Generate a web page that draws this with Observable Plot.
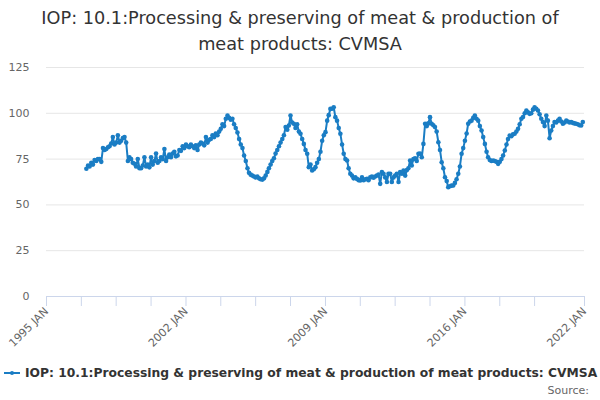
<!DOCTYPE html>
<html><head><meta charset="utf-8">
<script src="https://cdn.jsdelivr.net/npm/d3@7"></script>
<script src="https://cdn.jsdelivr.net/npm/@observablehq/plot@0.6"></script>
<style>
body{margin:0;width:600px;height:400px;overflow:hidden;font-family:"DejaVu Sans",sans-serif;background:#fff;}
#title{font-size:17.7px;color:#333;text-align:center;line-height:26px;padding-top:5px;height:53px;box-sizing:content-box;}
#chart{height:300px;}
#legend{margin-top:5px;height:20px;line-height:20px;font-size:12.3px;font-weight:bold;color:#333;white-space:nowrap;display:flex;align-items:center;padding-left:4px;}
.sym{position:relative;display:inline-block;width:16px;height:20px;margin-right:5px;}
.ln{position:absolute;left:0;top:9px;width:16px;height:2px;background:#1a7dc4;}
.dt{position:absolute;left:6px;top:8px;width:4px;height:4px;border-radius:2px;background:#1a7dc4;}
#source{font-size:11px;color:#666;text-align:right;padding-right:11px;line-height:14px;margin-top:1px;}
</style></head><body>
<div id="title">IOP: 10.1:Processing &amp; preserving of meat &amp; production of<br>meat products: CVMSA</div>
<div id="chart"></div>
<div id="legend"><span class="sym"><span class="ln"></span><span class="dt"></span></span><span>IOP: 10.1:Processing &amp; preserving of meat &amp; production of meat products: CVMSA</span></div>
<div id="source">Source:</div>
<script>
const seriesName = "IOP: 10.1:Processing & preserving of meat & production of meat products: CVMSA";
const startYear = 1997; // monthly values from January 1997
const values = [
  69.7, 71.5, 71, 73, 72, 74.5, 74, 75, 75, 73.5, 81, 80,
  80.5, 81.5, 82, 83.5, 87, 83, 84, 88, 84, 85, 86.5, 87,
  84, 74, 76, 75, 73, 72.5, 71, 75, 70, 70, 71.5, 76,
  71, 72, 70.5, 76, 72, 74, 78, 73, 74, 76, 75, 80.5,
  74, 76, 77.5, 76, 78, 79, 76.5, 77, 80, 79.5, 82, 81,
  83, 82, 81.5, 83, 82, 81, 82.5, 80, 83, 84, 83.5, 82.5,
  87, 84, 85.5, 86, 88, 87, 89, 88, 90, 91.5, 94, 93,
  97, 98.8, 97.5, 96.5, 97, 94, 92, 89.5, 86, 83, 81, 77,
  74, 70, 67.5, 66.5, 66, 65.5, 65, 65.5, 64.5, 64, 63.8, 64.5,
  66, 68, 70, 72, 74, 75.5, 78, 80, 82, 84, 86, 88,
  92.5, 91, 93.3, 98.8, 95, 94.3, 92, 94, 90, 88.8, 86, 83.3,
  80, 77.9, 70.6, 72, 68.8, 69.5, 70.6, 73, 75, 79, 85, 88,
  89.7, 96, 99, 102.4, 102.5, 103.3, 97.9, 96, 92, 88.8, 83, 77.9,
  75, 74.2, 70, 67, 66, 64.5, 65, 64.2, 63.5, 63.3, 65, 63.5,
  64, 64.2, 63.5, 65, 65.5, 64.8, 65.5, 66, 66.5, 61.5, 67.9, 67,
  65, 62.5, 67, 67, 62.5, 65, 66, 67, 62.5, 67.9, 67, 68.8,
  66, 69, 70, 74.2, 71.5, 75, 75.5, 74, 77.9, 78, 76, 83.3,
  94.3, 93, 94.5, 97.9, 94.3, 93.5, 92.5, 90, 84.2, 80, 73.3, 70,
  65.1, 63, 59.7, 60.2, 60.5, 60.6, 62, 64, 67, 71, 77.9, 81,
  85, 89, 94.3, 95.5, 96, 97.5, 98.8, 97, 96, 93, 90.6, 87,
  83.3, 79, 76, 74.5, 74, 74.2, 74, 73.5, 72.4, 73.5, 75, 77,
  79.7, 83, 86, 87.9, 87.5, 88.5, 88.8, 90, 91.5, 94, 97, 98,
  100, 101.5, 100.5, 99.7, 100, 102, 103.3, 102.5, 101.5, 99.5, 97, 95.2,
  93, 98.8, 96, 86.4, 90.6, 93, 95.2, 95, 96, 97, 95.5, 94.3,
  95, 96, 95.5, 95, 95.2, 94.8, 94.5, 94.3, 94, 93.5, 93.3, 95.2
];
const yTicks = [0, 25, 50, 75, 100, 125];
const xTickDates = ["1995-01","1996-10","1998-07","2000-04","2002-01","2003-10","2005-07","2007-04","2009-01","2010-10","2012-07","2014-04","2016-01","2017-10","2019-07","2022-01"];
const xTickLabels = {"1995-01":"1995 JAN","2002-01":"2002 JAN","2009-01":"2009 JAN","2016-01":"2016 JAN","2022-01":"2022 JAN"};
const xDomain = ["1995-01", "2022-01"];

const blue = "#1a7dc4";
const parse = s => { const [y, m] = s.split("-").map(Number); return new Date(Date.UTC(y, m - 1, 1)); };
const data = values.map((v, i) => ({date: new Date(Date.UTC(startYear, i, 1)), value: v}));
const tickDates = xTickDates.map(parse);
const labelOf = d => xTickLabels[d3.utcFormat("%Y-%m")(d)] || "";

const chart = Plot.plot({
  width: 600, height: 300,
  marginLeft: 46, marginRight: 16, marginTop: 9, marginBottom: 62,
  style: {fontFamily: "DejaVu Sans, sans-serif", fontSize: "11px", background: "transparent", overflow: "visible"},
  x: {type: "utc", domain: xDomain.map(parse)},
  y: {domain: [0, 125]},
  marks: [
    Plot.gridY(yTicks, {stroke: "#e6e6e6", strokeOpacity: 1}),
    Plot.axisY(yTicks, {tickSize: 0, tickPadding: 17, fill: "#666", label: null, fontSize: 11}),
    Plot.ruleY([0], {stroke: "#ccd6eb"}),
    Plot.axisX(tickDates, {tickSize: 10, tickPadding: 3, stroke: "#ccd6eb", strokeOpacity: 1, fill: "#666", tickRotate: -45, tickFormat: labelOf, label: null, fontSize: 11}),
    Plot.line(data, {x: "date", y: "value", stroke: blue, strokeWidth: 2}),
    Plot.dot(data, {x: "date", y: "value", r: 2.3, fill: blue, stroke: null, title: d => seriesName})
  ]
});
document.getElementById("chart").appendChild(chart);
</script>
</body></html>
